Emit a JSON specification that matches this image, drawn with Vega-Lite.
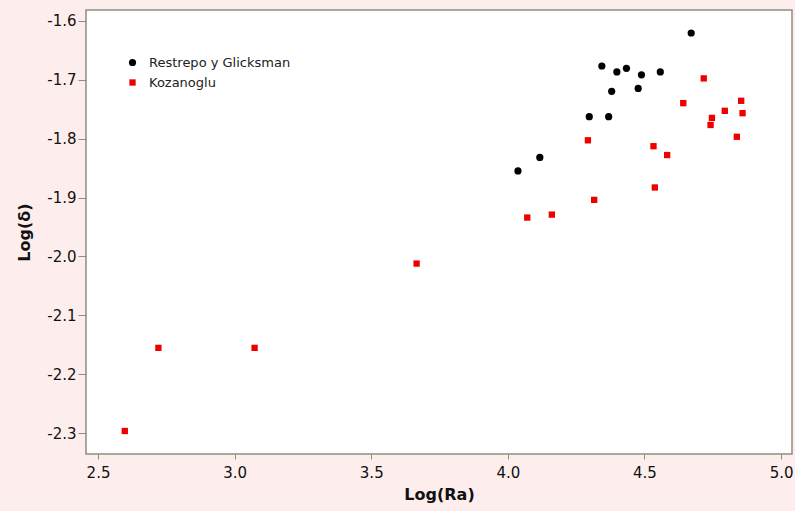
{
  "$schema": "https://vega.github.io/schema/vega-lite/v6.json",
  "width": 706,
  "height": 444,
  "autosize": {"type": "none"},
  "padding": {"left": 86, "top": 10, "right": 3, "bottom": 57},
  "background": "#fdeeed",
  "config": {
    "font": "DejaVu Sans",
    "view": {"fill": "white", "stroke": "#8f8f80", "strokeWidth": 1.5},
    "axis": {
      "grid": false,
      "domain": false,
      "tickColor": "#8f8f80",
      "labelColor": "#111111",
      "labelFont": "DejaVu Sans",
      "labelFontSize": 15,
      "titleFont": "DejaVu Sans",
      "titleFontWeight": "bold",
      "titleFontSize": 16,
      "titleColor": "#111111"
    }
  },
  "data": {
    "values": [
      {"series": "Restrepo y Glicksman", "logRa": 4.671, "logd": -1.621},
      {"series": "Restrepo y Glicksman", "logRa": 4.344, "logd": -1.677},
      {"series": "Restrepo y Glicksman", "logRa": 4.399, "logd": -1.687},
      {"series": "Restrepo y Glicksman", "logRa": 4.434, "logd": -1.681},
      {"series": "Restrepo y Glicksman", "logRa": 4.489, "logd": -1.692},
      {"series": "Restrepo y Glicksman", "logRa": 4.558, "logd": -1.687},
      {"series": "Restrepo y Glicksman", "logRa": 4.380, "logd": -1.720},
      {"series": "Restrepo y Glicksman", "logRa": 4.477, "logd": -1.715},
      {"series": "Restrepo y Glicksman", "logRa": 4.298, "logd": -1.763},
      {"series": "Restrepo y Glicksman", "logRa": 4.369, "logd": -1.763},
      {"series": "Restrepo y Glicksman", "logRa": 4.117, "logd": -1.832},
      {"series": "Restrepo y Glicksman", "logRa": 4.037, "logd": -1.855},
      {"series": "Kozanoglu", "logRa": 4.717, "logd": -1.698},
      {"series": "Kozanoglu", "logRa": 4.642, "logd": -1.740},
      {"series": "Kozanoglu", "logRa": 4.854, "logd": -1.736},
      {"series": "Kozanoglu", "logRa": 4.794, "logd": -1.753},
      {"series": "Kozanoglu", "logRa": 4.859, "logd": -1.757},
      {"series": "Kozanoglu", "logRa": 4.747, "logd": -1.765},
      {"series": "Kozanoglu", "logRa": 4.742, "logd": -1.777},
      {"series": "Kozanoglu", "logRa": 4.838, "logd": -1.797},
      {"series": "Kozanoglu", "logRa": 4.293, "logd": -1.803},
      {"series": "Kozanoglu", "logRa": 4.533, "logd": -1.813},
      {"series": "Kozanoglu", "logRa": 4.583, "logd": -1.828},
      {"series": "Kozanoglu", "logRa": 4.538, "logd": -1.883},
      {"series": "Kozanoglu", "logRa": 4.316, "logd": -1.904},
      {"series": "Kozanoglu", "logRa": 4.161, "logd": -1.929},
      {"series": "Kozanoglu", "logRa": 4.071, "logd": -1.934},
      {"series": "Kozanoglu", "logRa": 3.666, "logd": -2.012},
      {"series": "Kozanoglu", "logRa": 2.721, "logd": -2.155},
      {"series": "Kozanoglu", "logRa": 3.073, "logd": -2.155},
      {"series": "Kozanoglu", "logRa": 2.598, "logd": -2.296}
    ]
  },
  "mark": {"type": "point", "filled": true, "opacity": 1},
  "encoding": {
    "x": {
      "field": "logRa", "type": "quantitative", "title": "Log(Ra)",
      "scale": {"domain": [2.456, 5.04], "nice": false, "zero": false},
      "axis": {"values": [2.5, 3.0, 3.5, 4.0, 4.5, 5.0], "format": ".1f", "tickSize": 5, "labelPadding": 6, "titlePadding": 6}
    },
    "y": {
      "field": "logd", "type": "quantitative", "title": "Log(δ)",
      "scale": {"domain": [-2.335, -1.582], "nice": false, "zero": false},
      "axis": {"values": [-2.3, -2.2, -2.1, -2.0, -1.9, -1.8, -1.7, -1.6], "format": ".1f", "labelExpr": "replace(datum.label, '\u2212', '-')", "tickSize": 8, "labelPadding": 2, "titlePadding": 14}
    },
    "color": {
      "field": "series", "type": "nominal",
      "scale": {"domain": ["Restrepo y Glicksman", "Kozanoglu"], "range": ["#000000", "#ee0000"]},
      "legend": {
        "title": null, "orient": "none", "legendX": 40, "legendY": 46,
        "padding": 0, "symbolSize": 36, "labelFontSize": 13, "labelColor": "#222222",
        "labelOffset": 10, "rowPadding": 6
      }
    },
    "shape": {
      "field": "series", "type": "nominal",
      "scale": {"domain": ["Restrepo y Glicksman", "Kozanoglu"], "range": ["circle", "square"]},
      "legend": null
    },
    "size": {
      "field": "series", "type": "nominal",
      "scale": {"domain": ["Restrepo y Glicksman", "Kozanoglu"], "range": [52, 40]},
      "legend": null
    }
  }
}
